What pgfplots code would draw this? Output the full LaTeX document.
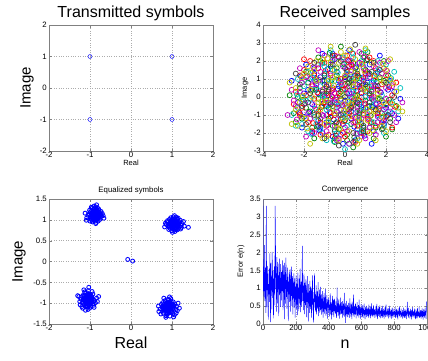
\documentclass[border=0pt]{standalone}
\usepackage{fontspec}
\setmainfont{Liberation Sans}
\usepackage{pgfplots}
\pgfplotsset{compat=1.18}
\definecolor{mb}{rgb}{0,0,1}
\definecolor{mg}{rgb}{0,0.5,0}
\definecolor{mr}{rgb}{1,0,0}
\definecolor{mc}{rgb}{0,0.75,0.75}
\definecolor{mm}{rgb}{0.75,0,0.75}
\definecolor{my}{rgb}{0.75,0.75,0}
\definecolor{mk}{rgb}{0.25,0.25,0.25}
\pgfplotsset{every axis title shift=0pt}
\pgfplotsset{mlab/.style={
  scale only axis, width=164pt, height=126pt,
  /pgf/number format/assume math mode=true,
  /pgf/number format/1000 sep={},
  tick label style={font=\fontsize{7.8}{8}\selectfont},
  grid=major, grid style={dotted, gray!65, line width=0.5pt},
  axis line style={black!50, line width=0.5pt},
  tick align=inside, major tick length=2.5pt, tick style={black!50},
  xticklabel style={inner sep=0.8pt},
  yticklabel style={inner sep=2pt},
  anchor=south west},
  bigt/.style={title style={font=\fontsize{16}{16}\selectfont, at={(axis description cs:0.5,1.056)}, anchor=base}},
  smallt/.style={title style={font=\fontsize{7.8}{8}\selectfont, at={(axis description cs:0.5,1.072)}, anchor=center}},
  sc/.style={only marks, mark=o, mark size=2.5pt, mark options={line width=0.7pt}},
}
\begin{document}
\begin{tikzpicture}
\path[use as bounding box] (0,0) rectangle (428pt,360pt);
% ---------------- top left
\begin{axis}[mlab, bigt, at={(49pt,209pt)},
  xmin=-2, xmax=2, ymin=-2, ymax=2, xtick={-2,-1,0,1,2}, ytick={-2,-1,0,1,2},
  title={Transmitted symbols},
  xlabel={Real}, xlabel style={font=\fontsize{7.5}{8}\selectfont, at={(axis description cs:0.5,-0.09)}, anchor=center},
  ylabel={Image}, ylabel style={font=\fontsize{15}{15}\selectfont, at={(axis description cs:-0.134,0.5)}, anchor=center}]
\addplot[sc, mark size=2pt, mark options={line width=0.45pt}, color=mb] table[row sep=\\, header=false] {-1 1\\ 1 1\\ -1 -1\\ 1 -1\\};
\end{axis}
% ---------------- top right
\begin{axis}[mlab, bigt, at={(263pt,209pt)},
  xmin=-4, xmax=4, ymin=-3, ymax=4, xtick={-4,-2,0,2,4}, ytick={-3,-2,-1,0,1,2,3,4},
  title={Received samples},
  xlabel={Real}, xlabel style={font=\fontsize{7.5}{8}\selectfont, at={(axis description cs:0.5,-0.09)}, anchor=center},
  ylabel={Image}, ylabel style={font=\fontsize{7.5}{8}\selectfont, at={(axis description cs:-0.11,0.5)}, anchor=center}]
\addplot[sc, color=mb] table[row sep=\\, header=false] {
-1.8 0.4\\ 0.3 -1.2\\ 1.1 0.8\\ -0.5 2.1\\ 2.0 -0.6\\ -1.2 -1.7\\ 0.7 1.9\\ -2.3 -0.3\\ 1.6 1.4\\ 0.1 0.2\\
-0.8 -0.6\\ 1.4 -1.9\\ -1.5 1.3\\ 0.5 -2.4\\ 2.4 0.3\\ -0.2 -0.1\\ -1.0 0.9\\ 0.9 -0.7\\ -0.4 1.4\\ 1.9 -1.3\\
-2.0 -1.1\\ 0.2 2.6\\ 1.2 0.1\\ -1.6 -2.0\\ 0.6 0.7\\ -0.9 -1.4\\ 2.6 -1.2\\ -0.1 -2.6\\ 1.7 2.3\\ -2.6 0.9\\
0.4 -0.3\\ -1.3 0.2\\ 1.0 1.5\\ -0.6 -2.2\\ 2.2 0.9\\ -0.3 0.6\\ 0.8 -1.5\\ -1.9 1.8\\ 1.5 -0.4\\ -0.7 -0.9\\
0.0 1.1\\ 1.3 -2.6\\ -2.1 -1.7\\ 2.7 -0.1\\ -1.1 2.4\\
-0.5 -0.3\\ 0.8 0.2\\ -1.2 1.1\\ 0.3 -0.8\\ 1.5 0.6\\ -0.9 -1.0\\ 0.1 1.5\\ -1.6 -0.4\\ 1.1 -1.1\\ -0.3 0.9\\
0.6 -1.8\\ -1.4 0.5\\ 1.8 -0.2\\ -0.7 1.8\\ 0.4 0.4\\ -2.0 0.2\\ 1.2 1.8\\ -0.1 -1.5\\ 0.9 1.1\\ -1.1 -2.0\\
1.6 -1.0\\ -0.4 -0.8\\ 0.2 2.0\\ -1.7 1.0\\ 2.1 0.4\\ -0.8 0.1\\ 0.7 -0.4\\ -1.3 -1.3\\ 0.0 -0.2\\ 1.4 0.9\\
-0.6 2.4\\ 1.9 -1.5\\ -2.2 -0.9\\ 0.5 1.2\\ -0.2 -2.1\\ 1.0 -0.6\\ -1.0 0.7\\ 0.3 0.0\\ -1.5 1.6\\ 2.3 -0.9\\
-0.35 0.45\\ 0.65 -0.15\\ -1.05 -0.35\\ 0.25 1.25\\ 1.35 -0.55\\ -0.55 -1.25\\ 0.85 0.65\\ -1.45 0.85\\ 0.05 -0.95\\ 1.15 1.25\\
-0.85 1.55\\ 0.45 -1.65\\ -1.75 -0.85\\ 1.75 0.25\\ -0.15 -0.45\\ 0.55 1.65\\ -1.25 -1.85\\ 2.05 -1.05\\ -2.15 1.15\\ 0.95 -2.15\\};
\addplot[sc, color=mg] table[row sep=\\, header=false] {
0.6 0.1\\ -1.4 1.0\\ 1.8 -0.9\\ -0.3 -1.8\\ 0.9 2.2\\ -2.2 0.5\\ 1.3 -1.4\\ -0.8 0.3\\ 0.2 -0.7\\ 2.1 1.2\\
-1.7 -0.8\\ 0.5 1.6\\ -0.5 -2.5\\ 1.6 0.4\\ -1.1 1.9\\ 0.0 -1.3\\ 2.5 -0.5\\ -2.4 -1.4\\ 1.0 -0.2\\ -0.2 2.8\\
-1.5 -2.3\\ 1.9 2.0\\ -0.9 -0.2\\ 0.3 0.9\\ 1.4 -2.3\\ -2.7 0.1\\ 0.7 -1.0\\ -0.4 1.2\\ 2.3 -1.8\\ -1.2 -1.2\\
0.1 -2.1\\ 1.2 1.3\\ -1.9 1.4\\ 0.8 0.5\\ -0.6 -0.5\\ 1.7 -0.1\\ -0.1 0.4\\ 2.0 -2.2\\ -1.3 2.2\\ 0.4 -2.8\\
-2.0 -0.4\\ 1.1 2.5\\ -0.7 1.7\\ 0.9 -1.7\\ -2.5 -0.9\\
0.2 0.6\\ -0.9 -0.5\\ 1.3 0.3\\ -0.4 1.6\\ 0.7 -1.3\\ -1.8 0.8\\ 1.7 1.1\\ -0.1 -0.9\\ 0.9 -2.0\\ -1.3 -0.1\\
0.4 1.9\\ -0.6 -1.6\\ 2.0 -0.4\\ -2.1 -1.2\\ 1.1 0.6\\ -0.2 0.3\\ 0.6 -0.6\\ -1.0 1.3\\ 1.5 -1.7\\ -1.6 -1.7\\
0.0 1.0\\ 0.8 2.4\\ -0.7 -0.1\\ 1.9 0.9\\ -1.2 2.0\\ 0.3 -1.5\\ -2.3 0.0\\ 1.2 -0.5\\ -0.5 -2.3\\ 0.5 0.1\\
-1.4 0.4\\ 2.2 -1.2\\ -0.3 2.2\\ 1.0 1.5\\ -0.8 -1.2\\ 1.6 -0.1\\ -1.9 -0.6\\ 0.1 -2.4\\ -1.1 0.9\\ 0.7 0.8\\
0.35 -0.35\\ -0.65 0.95\\ 1.25 -1.05\\ -1.15 -0.55\\ 0.15 0.75\\ 1.55 0.85\\ -0.45 -1.45\\ -1.65 0.35\\ 0.75 -0.75\\ -0.05 1.85\\
1.05 2.05\\ -1.35 -1.65\\ 2.15 -0.15\\ -2.05 -0.15\\ 0.45 -2.25\\ -0.75 2.45\\ 1.85 -1.75\\ -0.25 0.05\\ 0.65 1.15\\ -1.05 0.15\\};
\addplot[sc, color=mr] table[row sep=\\, header=false] {
-0.4 0.0\\ 1.2 -0.8\\ -1.6 0.6\\ 0.3 1.8\\ 1.8 0.7\\ -0.9 -1.6\\ 0.7 -0.2\\ -2.1 -0.6\\ 1.5 -1.6\\ -0.2 1.0\\
0.0 -2.2\\ 2.2 -0.3\\ -1.3 1.6\\ 0.6 1.2\\ -0.7 -1.1\\ 1.9 1.6\\ -1.8 -1.4\\ 0.2 -0.9\\ -0.5 2.3\\ 1.0 0.3\\
-2.4 0.3\\ 1.4 2.0\\ -1.0 -0.3\\ 0.8 -2.0\\ -0.1 -0.5\\ 2.5 0.8\\ -1.5 -0.1\\ 0.4 2.4\\ 1.6 -0.9\\ -0.8 0.7\\
0.1 1.4\\ -1.2 -2.1\\ 2.0 -1.1\\ -2.2 1.2\\ 1.1 -1.2\\ -0.3 -1.5\\ 0.9 1.0\\ -1.7 2.0\\ 1.3 0.6\\ -0.6 0.4\\
0.5 -1.4\\ 2.3 -1.7\\ -1.4 -0.7\\ 0.0 0.7\\ -2.0 2.1\\
-0.6 0.5\\ 0.4 -0.2\\ -1.3 -0.8\\ 1.0 1.3\\ -0.2 -1.2\\ 1.7 -0.5\\ -1.0 1.9\\ 0.6 -1.6\\ -1.9 0.1\\ 1.3 0.0\\
0.0 0.4\\ -0.8 -2.1\\ 2.0 1.2\\ -1.5 1.2\\ 0.9 -1.0\\ -0.4 -0.4\\ 0.2 1.7\\ -2.2 -1.0\\ 1.5 1.6\\ -0.9 0.2\\
0.7 0.6\\ -0.1 -2.0\\ 1.8 -1.4\\ -1.6 -1.9\\ 0.3 -0.5\\ -0.7 1.3\\ 1.2 2.2\\ -1.1 -0.5\\ 2.3 0.1\\ 0.5 -2.5\\
-0.3 0.2\\ 1.1 -1.9\\ -2.0 1.5\\ 0.8 0.0\\ -1.2 -1.4\\ 0.1 2.3\\ 1.6 0.4\\ -0.5 -1.0\\ -2.5 -0.4\\ 0.4 1.0\\
-0.15 0.65\\ 0.95 -0.35\\ -1.35 0.25\\ 0.35 -1.05\\ 1.45 1.15\\ -0.75 -0.85\\ 0.15 2.05\\ -1.85 1.15\\ 1.25 -1.45\\ -0.45 -2.15\\
2.15 0.55\\ -2.25 -0.85\\ 0.55 0.35\\ -0.95 1.45\\ 1.65 -0.65\\ -0.05 -1.35\\ 0.85 1.85\\ -1.55 -1.45\\ 2.45 -0.55\\ -0.65 0.05\\};
\addplot[sc, color=mc] table[row sep=\\, header=false] {
0.2 -0.4\\ -1.1 0.1\\ 1.5 1.0\\ -0.3 -1.0\\ 0.8 2.0\\ -1.9 -0.2\\ 1.2 -1.7\\ -0.6 1.5\\ 2.2 -0.8\\ -1.4 -1.5\\
0.5 0.5\\ -0.1 2.2\\ 1.8 0.1\\ -2.3 1.0\\ 0.9 -0.6\\ -0.9 -2.4\\ 2.0 1.8\\ -1.6 1.1\\ 0.1 -1.6\\ 1.1 0.9\\
-0.4 -0.3\\ 2.6 -0.8\\ -2.6 -1.0\\ 0.6 -2.3\\ -1.2 0.6\\ 1.4 -0.2\\ -0.7 2.6\\ 0.3 1.1\\ -1.8 -1.9\\ 1.7 -1.2\\
-0.2 -0.7\\ 2.4 1.4\\ -1.0 1.3\\ 0.7 -1.1\\ -2.1 0.0\\ 1.0 2.6\\ -0.5 -1.8\\ 1.9 -2.0\\ -1.5 0.4\\ 0.4 0.3\\
1.3 -0.5\\ -2.4 -1.6\\ 0.0 -2.9\\ 2.7 0.5\\ -0.8 1.0\\
0.5 -0.9\\ -0.7 0.7\\ 1.2 0.5\\ -1.5 -1.1\\ 0.1 1.3\\ 1.7 -0.6\\ -0.4 -2.0\\ -1.0 1.7\\ 0.9 1.7\\ -2.0 0.6\\
0.3 -0.1\\ 1.4 -1.4\\ -0.9 -0.7\\ 2.1 0.7\\ -0.2 0.7\\ 0.6 -2.0\\ -1.7 -0.1\\ 1.0 0.0\\ -0.6 2.1\\ 1.9 -1.6\\
-1.2 -1.8\\ 0.0 -1.1\\ 0.8 1.0\\ -2.3 -0.6\\ 1.5 1.3\\ -0.3 -0.5\\ 0.4 2.2\\ -1.4 0.9\\ 2.3 -0.3\\ -0.8 -1.4\\
1.1 -0.9\\ -0.1 1.8\\ -1.8 1.4\\ 0.7 -0.3\\ 1.6 2.0\\ -1.1 0.0\\ 0.2 -2.6\\ -2.1 -1.5\\ 1.3 0.8\\ -0.5 0.9\\
0.05 0.25\\ -0.95 -0.15\\ 1.05 0.35\\ -0.35 1.35\\ 0.65 -1.35\\ -1.45 -0.65\\ 1.65 1.55\\ -0.55 -2.45\\ 1.95 -0.95\\ -1.95 0.95\\
0.35 2.45\\ -0.15 -1.15\\ 1.35 -0.15\\ -1.15 1.85\\ 0.85 -1.85\\ -2.35 0.15\\ 2.25 1.05\\ -0.75 -0.45\\ 0.45 0.95\\ -1.65 -2.05\\};
\addplot[sc, color=mm] table[row sep=\\, header=false] {
-0.2 0.8\\ 1.0 -0.4\\ -1.5 -0.5\\ 0.5 -1.1\\ 1.4 1.7\\ -2.1 0.8\\ 0.3 2.0\\ -0.9 -1.9\\ 2.0 -0.1\\ -1.2 1.4\\
0.8 -2.2\\ -0.4 -0.6\\ 1.6 -1.4\\ -2.5 -0.2\\ 0.1 0.5\\ 1.2 1.1\\ -0.6 2.0\\ -1.7 -1.2\\ 2.3 0.6\\ 0.6 -0.5\\
-1.0 0.0\\ 0.0 -1.7\\ 1.9 -0.7\\ -2.2 1.6\\ 0.9 1.6\\ -0.3 -2.3\\ -1.4 0.7\\ 1.5 -2.1\\ -0.7 -0.3\\ 2.5 -1.4\\
0.4 0.0\\ -2.8 -1.0\\ -1.1 -1.0\\ 1.1 -1.0\\ -0.1 1.7\\ 2.1 2.0\\ -1.9 -2.2\\ 0.7 2.5\\ -0.5 0.2\\ 1.7 0.3\\
-2.6 0.4\\ 0.2 -2.6\\ 2.8 -0.3\\ -1.3 2.6\\ 1.3 -0.1\\
0.0 -0.4\\ 0.9 0.9\\ -1.1 0.4\\ 0.4 -1.4\\ -0.7 1.2\\ 1.6 -1.1\\ -1.8 -0.9\\ 0.7 1.9\\ -0.3 -1.0\\ 2.0 0.5\\
-1.3 1.8\\ 0.2 0.2\\ 1.2 -1.7\\ -2.2 0.3\\ -0.5 -1.6\\ 1.4 0.0\\ -0.9 0.6\\ 0.6 -0.8\\ 1.8 1.3\\ -1.5 -2.0\\
-0.1 2.1\\ 1.0 -2.3\\ -2.4 -0.5\\ 0.5 0.7\\ -0.8 -0.3\\ 2.2 -0.6\\ -1.2 -1.5\\ 0.3 1.5\\ 1.3 0.4\\ -0.4 -2.4\\
-1.9 1.1\\ 0.8 -1.2\\ -0.6 0.0\\ 1.7 1.9\\ -1.0 2.3\\ 0.1 -1.9\\ 2.4 -1.0\\ -1.6 0.7\\ 1.1 1.4\\ -0.2 -0.7\\
-0.45 -0.15\\ 0.75 0.45\\ -1.25 0.95\\ 0.25 -0.65\\ 1.55 -0.35\\ -0.85 -1.55\\ 0.05 1.15\\ -1.95 -0.35\\ 1.15 -1.25\\ -0.35 2.25\\
2.05 1.45\\ -1.55 1.65\\ 0.55 -2.05\\ -2.35 -1.25\\ 1.45 0.65\\ -0.65 0.35\\ 0.35 1.75\\ -1.05 -1.05\\ 1.85 -1.35\\ 0.95 2.25\\};
\addplot[sc, color=my] table[row sep=\\, header=false] {
0.9 0.4\\ -1.3 -0.3\\ 0.2 -1.9\\ 1.7 1.0\\ -0.6 1.1\\ 1.1 -1.3\\ -2.0 1.3\\ 0.4 0.8\\ -0.8 -1.3\\ 2.3 -0.4\\
-1.6 0.0\\ 0.0 2.3\\ 1.4 -0.7\\ -0.2 -0.2\\ 2.0 1.5\\ -2.4 -0.7\\ 0.6 -2.6\\ -1.1 2.1\\ 1.8 -1.6\\ -0.5 -0.9\\
0.3 1.4\\ -1.8 1.7\\ 1.2 0.2\\ -0.9 -2.2\\ 2.6 -0.6\\ -2.3 -1.6\\ 0.8 1.8\\ -0.1 -1.2\\ 1.5 -2.4\\ -1.4 0.9\\
2.8 -0.8\\ -0.7 2.8\\ 1.0 2.7\\ -2.6 -1.5\\ 0.5 -0.1\\ -1.0 0.5\\ 1.9 0.8\\ -0.3 1.9\\ 0.7 -1.6\\ -2.1 -1.1\\
2.2 2.1\\ -1.7 -2.6\\ 1.3 -1.0\\ 0.1 -0.6\\ -2.7 0.8\\
-0.8 0.9\\ 0.3 -0.4\\ 1.4 1.2\\ -1.2 -0.7\\ 0.6 1.5\\ -0.4 -1.7\\ 1.9 -0.3\\ -1.7 0.4\\ 0.9 -0.9\\ -0.1 0.1\\
-1.0 -1.5\\ 1.2 -2.0\\ -2.1 1.1\\ 0.5 2.1\\ 1.6 0.2\\ -0.6 -0.6\\ 0.0 1.2\\ -1.4 2.0\\ 2.2 1.0\\ 0.8 -1.4\\
-0.3 -2.4\\ -1.9 -1.2\\ 1.0 0.5\\ -0.5 1.5\\ 1.8 -1.1\\ 0.2 -1.1\\ -2.4 0.5\\ 1.3 1.9\\ -0.9 -0.2\\ 0.7 -2.4\\
-1.5 1.5\\ 2.5 0.3\\ 0.4 0.6\\ -1.1 -2.3\\ 1.5 -0.8\\ -0.2 2.5\\ 2.0 -1.9\\ -2.2 -0.3\\ 0.6 0.0\\ -0.7 1.9\\
0.15 -0.25\\ -0.55 0.65\\ 1.05 -0.65\\ -1.35 -1.05\\ 0.55 1.05\\ 1.65 -0.05\\ -0.25 -1.75\\ -1.65 1.35\\ 0.95 1.45\\ -2.05 0.05\\
1.35 -1.85\\ -0.85 2.15\\ 2.35 0.75\\ -0.05 -0.75\\ -1.15 -0.25\\ 0.65 -1.15\\ -0.35 1.05\\ 1.85 1.85\\ -1.85 -1.75\\ 0.25 2.65\\};
\addplot[sc, color=mk] table[row sep=\\, header=false] {
0.0 0.0\\ -0.9 0.6\\ 1.2 -0.3\\ -0.4 -1.4\\ 0.6 1.3\\ -1.7 0.2\\ 1.6 0.6\\ -0.2 2.0\\ 0.9 -1.9\\ -1.3 -1.0\\
2.1 -1.0\\ -2.1 -0.5\\ 0.3 -0.6\\ -0.6 1.8\\ 1.4 1.9\\ -1.0 -2.3\\ 0.5 2.9\\ 1.8 -1.8\\ -2.4 1.3\\ 0.2 1.0\\
-0.7 -0.4\\ 1.0 0.7\\ -1.5 1.9\\ 2.4 0.0\\ -0.3 -2.7\\ 0.7 -0.9\\ -1.9 -1.5\\ 1.3 1.4\\ -1.1 0.3\\ 0.4 -2.0\\
0.6 -0.3\\ -1.0 1.2\\ 1.5 -0.7\\ -0.5 -1.9\\ 0.2 0.8\\ -1.8 -0.3\\ 1.1 2.1\\ -0.2 -1.0\\ 2.0 0.8\\ -1.3 -1.6\\
0.9 -1.6\\ -0.8 0.4\\ 1.7 1.5\\ -2.2 0.7\\ 0.4 -2.5\\ -0.6 2.3\\ 1.2 0.2\\ -1.5 -1.0\\ 0.0 1.6\\ 2.2 -1.4\\};
\end{axis}
% ---------------- bottom left
\begin{axis}[mlab, smallt, at={(49pt,36pt)}, height=125pt,
  xmin=-2, xmax=2, ymin=-1.5, ymax=1.5, xtick={-2,-1,0,1,2}, ytick={-1.5,-1,-0.5,0,0.5,1,1.5},
  title={Equalized symbols},
  xlabel={Real}, xlabel style={font=\fontsize{16}{16}\selectfont, at={(axis description cs:0.5,-0.152)}, anchor=center},
  ylabel={Image}, ylabel style={font=\fontsize{15}{15}\selectfont, at={(axis description cs:-0.183,0.5)}, anchor=center}]
\addplot[sc, mark size=2pt, mark options={line width=0.85pt}, color=mb] table[row sep=\\, header=false] {
-0.87 1.10\\ -0.80 1.15\\ -0.93 1.04\\ -0.85 1.21\\ -0.95 1.16\\ -0.78 1.05\\ -0.90 0.98\\ -0.82 1.12\\ -0.99 1.09\\ -0.74 1.13\\
-0.88 1.27\\ -0.84 0.99\\ -0.96 1.22\\ -0.79 1.19\\ -0.91 1.08\\ -0.86 1.03\\ -1.02 1.14\\ -0.76 1.01\\ -0.83 1.24\\ -0.94 0.95\\
-0.89 1.17\\ -0.81 1.07\\ -0.97 1.02\\ -0.72 1.09\\ -0.86 1.31\\ -1.05 1.11\\ -0.92 1.25\\ -0.77 1.18\\ -0.85 0.94\\ -0.99 1.19\\
-0.80 0.97\\ -0.88 1.05\\ -0.93 1.13\\ -0.83 1.16\\ -0.70 1.15\\ -1.08 1.05\\ -0.90 1.33\\ -0.79 1.26\\ -0.96 0.99\\ -0.84 1.08\\
-0.87 1.20\\ -1.01 1.23\\ -0.75 1.07\\ -0.91 1.01\\ -0.82 1.29\\ -0.68 1.10\\ -1.12 1.16\\ -0.86 0.91\\ -0.94 1.29\\ -0.78 1.22\\
-1.00 0.97\\ -0.89 1.12\\ -0.81 1.03\\ -0.95 1.07\\ -0.73 1.20\\ -0.97 1.30\\ -0.84 1.36\\ -1.09 0.99\\ -0.66 1.04\\
-0.87 1.11\\ -0.84 1.14\\ -0.90 1.08\\ -0.86 1.06\\ -0.89 1.16\\ -0.82 1.09\\ -0.92 1.12\\ -0.85 1.18\\ -0.88 1.02\\ -0.80 1.11\\
-0.94 1.09\\ -0.83 1.04\\ -0.91 1.19\\ -0.86 1.13\\ -0.81 1.16\\ -0.93 1.05\\ -0.88 1.22\\ -0.85 1.00\\ -0.96 1.14\\ -0.78 1.12\\
-0.89 1.09\\ -0.84 1.20\\ -0.92 1.01\\ -0.87 1.15\\ -0.80 1.06\\ -0.95 1.18\\ -0.83 1.13\\ -0.90 1.04\\ -0.86 1.24\\ -0.77 1.15\\
1.05 0.90\\ 1.12 0.94\\ 0.98 0.86\\ 1.08 0.82\\ 0.96 0.97\\ 1.15 0.88\\ 1.02 1.02\\ 1.10 0.78\\ 0.93 0.91\\ 1.19 0.95\\
1.04 0.84\\ 0.99 0.99\\ 1.13 1.01\\ 1.07 0.72\\ 0.90 0.85\\ 1.22 0.87\\ 1.01 0.93\\ 1.16 0.80\\ 0.95 0.80\\ 1.09 0.97\\
1.03 1.07\\ 0.88 0.95\\ 1.25 0.91\\ 1.06 0.76\\ 0.97 1.05\\ 1.14 0.84\\ 1.00 0.89\\ 1.11 1.06\\ 0.92 0.77\\ 1.20 0.99\\
1.05 0.95\\ 0.86 0.89\\ 1.18 0.83\\ 1.02 0.79\\ 1.09 0.91\\ 0.94 1.01\\ 1.28 0.96\\ 1.07 1.03\\ 0.99 0.74\\ 1.13 0.76\\
0.89 0.98\\ 1.23 0.82\\ 1.04 0.98\\ 0.96 0.88\\ 1.16 0.93\\ 1.01 0.70\\ 0.84 0.92\\ 1.11 0.86\\ 1.06 1.10\\ 1.21 0.78\\
0.93 0.83\\ 1.40 0.82\\ 1.30 0.85\\ 0.82 0.83\\ 1.15 1.04\\
1.05 0.90\\ 1.08 0.93\\ 1.02 0.87\\ 1.06 0.85\\ 1.01 0.95\\ 1.10 0.89\\ 1.04 0.97\\ 1.12 0.84\\ 0.99 0.91\\ 1.07 0.81\\
1.13 0.92\\ 1.00 0.86\\ 1.09 0.98\\ 1.03 0.83\\ 0.97 0.94\\ 1.15 0.90\\ 1.05 1.00\\ 1.11 0.80\\ 0.98 0.88\\ 1.06 0.95\\
1.02 0.92\\ 1.14 0.87\\ 1.08 0.79\\ 0.96 0.90\\ 1.10 0.95\\ 1.04 0.88\\ 1.17 0.93\\ 1.01 0.82\\ 1.07 1.02\\ 0.94 0.85\\
-1.05 -0.92\\ -0.98 -0.88\\ -1.12 -0.95\\ -1.02 -0.84\\ -1.09 -1.01\\ -0.95 -0.97\\ -1.15 -0.87\\ -1.01 -1.04\\ -1.07 -0.80\\ -0.92 -0.91\\
-1.19 -0.99\\ -1.04 -0.96\\ -0.99 -0.79\\ -1.13 -0.83\\ -1.06 -1.09\\ -0.94 -1.02\\ -1.17 -0.92\\ -1.03 -0.87\\ -0.89 -0.94\\ -1.10 -1.06\\
-1.00 -0.99\\ -1.22 -0.90\\ -1.08 -0.75\\ -0.96 -0.84\\ -1.14 -1.03\\ -1.04 -0.70\\ -0.87 -0.99\\ -1.11 -0.89\\ -1.01 -1.12\\ -0.93 -0.78\\
-1.25 -0.96\\ -1.06 -0.85\\ -0.98 -1.07\\ -1.16 -0.80\\ -1.08 -0.98\\ -0.91 -1.05\\ -1.20 -1.08\\ -1.02 -0.93\\ -0.84 -0.88\\ -1.13 -0.73\\
-1.05 -1.15\\ -0.97 -0.92\\ -1.27 -0.84\\ -1.09 -0.92\\ -0.95 -0.72\\ -1.18 -1.12\\ -1.00 -0.82\\ -0.82 -0.96\\ -1.11 -1.17\\ -1.03 -0.62\\
-1.30 -0.82\\ -0.79 -0.84\\ -1.15 -0.68\\ -0.90 -1.10\\ -1.24 -1.04\\
-1.05 -0.92\\ -1.02 -0.89\\ -1.08 -0.95\\ -1.04 -0.86\\ -1.07 -0.98\\ -0.99 -0.93\\ -1.11 -0.90\\ -1.03 -1.00\\ -1.09 -0.84\\ -0.97 -0.88\\
-1.13 -0.96\\ -1.01 -0.95\\ -1.06 -0.82\\ -1.10 -1.02\\ -0.98 -0.98\\ -1.14 -0.87\\ -1.04 -1.04\\ -1.00 -0.83\\ -1.08 -0.91\\ -0.95 -0.92\\
-1.12 -0.93\\ -1.03 -0.80\\ -1.06 -1.06\\ -0.96 -0.96\\ -1.16 -0.91\\ -1.01 -0.87\\ -1.09 -0.99\\ -1.05 -0.78\\ -0.99 -1.01\\ -1.15 -0.83\\
0.90 -1.10\\ 0.97 -1.06\\ 0.83 -1.13\\ 0.93 -1.19\\ 0.86 -1.02\\ 1.01 -1.14\\ 0.80 -1.07\\ 0.95 -0.99\\ 0.88 -1.22\\ 1.04 -1.09\\
0.78 -1.16\\ 0.91 -1.04\\ 0.99 -1.20\\ 0.84 -0.97\\ 0.94 -1.12\\ 0.87 -1.27\\ 1.07 -1.02\\ 0.76 -1.10\\ 0.92 -0.93\\ 1.02 -1.25\\
0.81 -1.19\\ 0.96 -1.14\\ 0.89 -1.00\\ 1.09 -1.15\\ 0.74 -1.03\\ 0.98 -0.96\\ 0.85 -1.30\\ 1.05 -1.06\\ 0.82 -1.09\\ 0.93 -1.23\\
1.11 -1.08\\ 0.79 -1.24\\ 0.90 -0.91\\ 1.00 -1.02\\ 0.87 -1.16\\ 0.71 -1.14\\ 1.13 -1.18\\ 0.95 -1.31\\ 0.83 -0.94\\ 1.03 -0.97\\
0.91 -1.18\\ 0.77 -0.99\\ 1.06 -1.28\\ 0.88 -1.07\\ 0.97 -0.89\\ 0.68 -1.20\\ 1.15 -1.00\\ 0.85 -1.34\\ 1.10 -1.24\\ 0.94 -0.85\\
0.73 -1.26\\ 1.18 -1.12\\ 0.80 -0.88\\ 1.04 -1.33\\ 0.67 -1.07\\
0.90 -1.10\\ 0.93 -1.07\\ 0.87 -1.13\\ 0.91 -1.16\\ 0.88 -1.04\\ 0.96 -1.11\\ 0.84 -1.09\\ 0.94 -1.02\\ 0.89 -1.19\\ 0.99 -1.08\\
0.82 -1.14\\ 0.92 -1.05\\ 0.97 -1.17\\ 0.86 -1.00\\ 0.95 -1.14\\ 0.88 -1.23\\ 1.00 -1.03\\ 0.80 -1.11\\ 0.91 -0.98\\ 0.98 -1.21\\
0.85 -1.18\\ 0.94 -1.09\\ 0.87 -1.06\\ 1.02 -1.13\\ 0.79 -1.04\\ 0.96 -0.99\\ 0.89 -1.26\\ 1.03 -1.07\\ 0.83 -1.07\\ 0.92 -1.21\\
-0.08 0.05\\ 0.04 0.01\\};
\end{axis}
% ---------------- bottom right
\begin{axis}[mlab, smallt, at={(263pt,36pt)}, height=125pt,
  xmin=0, xmax=1000, ymin=0, ymax=3.5, xtick={0,200,400,600,800,1000}, ytick={0,0.5,1,1.5,2,2.5,3,3.5},
  title={Convergence},
  xlabel={n}, xlabel style={font=\fontsize{16}{16}\selectfont, at={(axis description cs:0.5,-0.16)}, anchor=center},
  ylabel={Error e(n)}, ylabel style={font=\fontsize{7.5}{8}\selectfont, at={(axis description cs:-0.134,0.5)}, anchor=center}]
\addplot[color=mb, line width=0.45pt, sharp plot] table[row sep=\\, header=false, x expr=\coordindex*2, y index=0] {
3.48\\ 0.92\\ 1.61\\ 0.75\\ 2.21\\ 1.05\\ 0.64\\ 1.58\\ 0.88\\ 0.31\\ 3.31\\ 1.22\\ 0.47\\ 1.63\\ 0.95\\ 1.41\\ 0.12\\ 1.12\\ 0.83\\ 1.55\\
0.62\\ 1.98\\ 1.25\\ 0.05\\ 1.71\\ 0.94\\ 1.33\\ 0.41\\ 2.02\\ 1.18\\ 0.73\\ 1.49\\ 0.16\\ 1.27\\ 0.86\\ 1.62\\ 0.52\\ 3.31\\ 2.45\\ 0.98\\
1.42\\ 0.35\\ 1.87\\ 1.06\\ 0.58\\ 1.73\\ 0.97\\ 1.36\\ 0.22\\ 1.55\\ 1.83\\ 0.81\\ 1.29\\ 0.48\\ 1.68\\ 1.12\\ 0.66\\ 1.45\\ 0.92\\ 1.78\\
1.21\\ 0.39\\ 1.64\\ 0.88\\ 1.38\\ 0.14\\ 1.71\\ 1.02\\ 0.57\\ 1.49\\ 1.86\\ 0.76\\ 1.23\\ 0.43\\ 1.58\\ 0.91\\ 1.32\\ 0.08\\ 1.19\\ 0.83\\
1.47\\ 0.62\\ 1.08\\ 1.53\\ 0.35\\ 1.26\\ 0.79\\ 1.61\\ 0.51\\ 0.98\\ 1.34\\ 0.27\\ 1.15\\ 0.72\\ 1.42\\ 0.46\\ 0.93\\ 1.28\\ 0.18\\ 1.05\\
0.68\\ 1.36\\ 0.42\\ 1.12\\ 0.83\\ 0.25\\ 1.44\\ 0.71\\ 1.02\\ 0.36\\ 1.27\\ 0.58\\ 0.91\\ 1.55\\ 0.33\\ 0.86\\ 1.18\\ 0.49\\ 0.77\\ 1.31\\
2.19\\ 0.64\\ 1.08\\ 0.39\\ 0.92\\ 1.41\\ 0.28\\ 0.81\\ 1.16\\ 0.53\\ 0.74\\ 1.25\\ 0.19\\ 0.96\\ 0.62\\ 1.34\\ 0.45\\ 0.88\\ 0.07\\ 1.12\\
0.58\\ 0.93\\ 0.31\\ 1.21\\ 0.67\\ 0.42\\ 1.05\\ 0.76\\ 0.18\\ 0.98\\ 0.54\\ 1.36\\ 0.38\\ 0.71\\ 0.04\\ 0.89\\ 0.61\\ 1.42\\ 0.46\\ 0.83\\
0.35\\ 0.72\\ 1.08\\ 0.27\\ 0.64\\ 0.91\\ 0.43\\ 0.59\\ 1.17\\ 0.22\\ 0.77\\ 0.48\\ 0.96\\ 0.31\\ 0.68\\ 1.04\\ 0.39\\ 0.57\\ 0.83\\ 0.26\\
0.71\\ 0.44\\ 0.92\\ 0.18\\ 0.63\\ 0.35\\ 0.87\\ 0.52\\ 0.29\\ 0.76\\ 0.41\\ 0.98\\ 0.23\\ 0.58\\ 0.37\\ 0.81\\ 0.15\\ 0.62\\ 0.46\\ 0.73\\
0.32\\ 0.67\\ 0.21\\ 0.54\\ 0.39\\ 0.86\\ 0.27\\ 0.48\\ 0.61\\ 0.13\\ 0.57\\ 0.34\\ 0.79\\ 0.25\\ 0.49\\ 0.68\\ 0.19\\ 0.44\\ 0.71\\ 0.36\\
0.52\\ 0.28\\ 0.63\\ 0.41\\ 0.17\\ 0.48\\ 1.02\\ 0.33\\ 0.58\\ 0.22\\ 0.46\\ 0.69\\ 0.31\\ 0.15\\ 0.55\\ 0.38\\ 0.74\\ 0.26\\ 0.43\\ 0.61\\
0.29\\ 0.51\\ 0.18\\ 0.64\\ 0.37\\ 0.24\\ 0.56\\ 0.42\\ 0.87\\ 0.21\\ 0.33\\ 0.58\\ 0.03\\ 0.47\\ 0.28\\ 0.65\\ 0.36\\ 0.19\\ 0.52\\ 0.41\\
0.26\\ 0.59\\ 0.34\\ 0.17\\ 0.48\\ 0.72\\ 0.29\\ 0.43\\ 0.21\\ 0.56\\ 0.38\\ 0.14\\ 0.63\\ 0.31\\ 0.47\\ 0.24\\ 0.82\\ 0.35\\ 0.19\\ 0.51\\
0.42\\ 0.27\\ 0.58\\ 0.33\\ 0.16\\ 0.49\\ 0.38\\ 0.61\\ 0.22\\ 0.44\\ 0.29\\ 0.53\\ 0.18\\ 0.68\\ 0.34\\ 0.25\\ 0.47\\ 0.39\\ 0.14\\ 0.56\\
0.31\\ 0.45\\ 0.21\\ 0.52\\ 0.36\\ 0.17\\ 0.43\\ 0.28\\ 0.57\\ 0.24\\ 0.39\\ 0.13\\ 0.48\\ 0.33\\ 0.26\\ 0.51\\ 0.19\\ 0.42\\ 0.35\\ 0.22\\
0.46\\ 0.29\\ 0.18\\ 0.54\\ 0.33\\ 0.25\\ 0.41\\ 0.16\\ 0.49\\ 0.37\\ 0.22\\ 0.58\\ 0.31\\ 0.27\\ 0.44\\ 0.19\\ 0.36\\ 0.52\\ 0.24\\ 0.32\\
0.41\\ 0.17\\ 0.35\\ 0.28\\ 0.49\\ 0.21\\ 0.38\\ 0.56\\ 0.26\\ 0.14\\ 0.43\\ 0.31\\ 0.23\\ 0.47\\ 0.34\\ 0.19\\ 0.52\\ 0.29\\ 0.37\\ 0.16\\
0.33\\ 0.45\\ 0.22\\ 0.29\\ 0.51\\ 0.18\\ 0.36\\ 0.27\\ 0.42\\ 0.15\\ 0.38\\ 0.24\\ 0.47\\ 0.31\\ 0.19\\ 0.55\\ 0.26\\ 0.34\\ 0.21\\ 0.43\\
0.28\\ 0.37\\ 0.16\\ 0.44\\ 0.25\\ 0.32\\ 0.51\\ 0.19\\ 0.35\\ 0.27\\ 0.41\\ 0.14\\ 0.39\\ 0.23\\ 0.46\\ 0.29\\ 0.18\\ 0.34\\ 0.26\\ 0.42\\
0.21\\ 0.36\\ 0.28\\ 0.47\\ 0.17\\ 0.33\\ 0.25\\ 0.42\\ 0.19\\ 0.38\\ 0.29\\ 0.13\\ 0.44\\ 0.27\\ 0.35\\ 0.22\\ 0.49\\ 0.31\\ 0.18\\ 0.37\\
0.26\\ 0.43\\ 0.19\\ 0.32\\ 0.24\\ 0.39\\ 0.15\\ 0.34\\ 0.28\\ 0.46\\ 0.21\\ 0.36\\ 0.17\\ 0.41\\ 0.29\\ 0.23\\ 0.38\\ 0.14\\ 0.33\\ 0.27\\
0.62\\ 0.31\\ 0.22\\ 0.45\\ 0.18\\ 0.37\\ 0.26\\ 0.34\\ 0.16\\ 0.42\\ 0.29\\ 0.21\\ 0.39\\ 0.13\\ 0.35\\ 0.24\\ 0.47\\ 0.19\\ 0.31\\ 0.27\\
0.36\\ 0.18\\ 0.43\\ 0.25\\ 0.32\\ 0.14\\ 0.41\\ 0.28\\ 0.22\\ 0.37\\ 0.16\\ 0.45\\ 0.26\\ 0.19\\ 0.34\\ 0.23\\ 0.48\\ 0.17\\ 0.31\\ 0.21\\
0.39\\ 0.24\\ 0.15\\ 0.33\\ 0.27\\ 0.44\\ 0.19\\ 0.36\\ 0.12\\ 0.29\\ 0.41\\ 0.22\\ 0.34\\ 0.18\\ 0.46\\ 0.25\\ 0.31\\ 0.14\\ 0.38\\ 0.63\\
};
\end{axis}
\end{tikzpicture}
\end{document}
